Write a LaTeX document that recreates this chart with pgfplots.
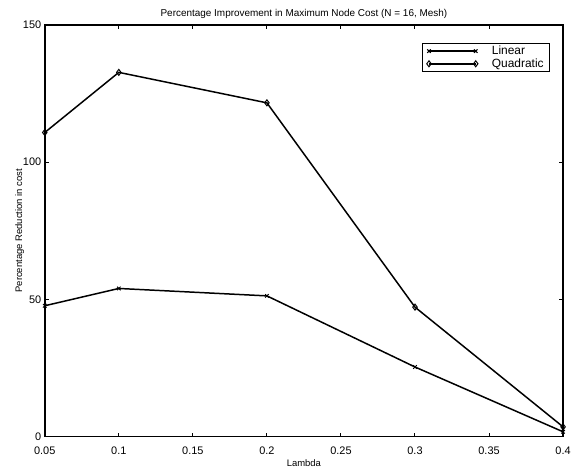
\documentclass[border=0pt]{standalone}
\usepackage{fontspec}
\setmainfont{Liberation Sans}
\usepackage{pgfplots}
\pgfplotsset{compat=1.18}
\begin{document}
\begin{tikzpicture}
\begin{axis}[
  scale only axis,
  width=521pt, height=414pt,
  xmin=0.05, xmax=0.4, ymin=0, ymax=150,
  xtick={0.05,0.1,0.15,0.2,0.25,0.3,0.35,0.4},
  xticklabels={0.05,0.1,0.15,0.2,0.25,0.3,0.35,0.4},
  ytick={0,50,100,150},
  tick align=inside,
  major tick length=4pt,
  axis line style={line width=1.5pt},
  tick style={line width=1pt, black},
  /pgf/number format/assume math mode=true,
  tick label style={font=\fontsize{11}{12}\selectfont},
  xticklabel style={yshift=-7pt},
  title={Percentage Improvement in Maximum Node Cost (N = 16, Mesh)},
  title style={font=\fontsize{10}{11}\selectfont, yshift=-3pt},
  xlabel={Lambda},
  ylabel={Percentage Reduction in cost},
  label style={font=\fontsize{9.5}{10}\selectfont},
  xlabel style={yshift=2pt},
  ylabel style={yshift=-8pt},
  legend style={at={(rel axis cs:0.975,0.957)}, anchor=north east,
    draw=black, line width=1pt, font=\fontsize{12}{12}\selectfont,
    inner xsep=4pt, inner ysep=1pt, row sep=-1.5pt, cells={anchor=west},
    /tikz/every odd column/.style={column sep=12pt}},
  legend image code/.code={
    \draw[#1] plot coordinates {(0pt,0pt) (47pt,0pt)};
  },
]
\addplot[black, line width=1.5pt, mark=x, mark size=2.5pt, mark options={line width=1pt}]
  coordinates {(0.05,47.7) (0.1,54.0) (0.2,51.3) (0.3,25.4) (0.4,1.8)};
\addlegendentry{Linear}
\addplot[black, line width=1.5pt, mark=diamond, mark size=3pt, mark options={line width=1pt, fill=white}]
  coordinates {(0.05,110.8) (0.1,132.7) (0.2,121.6) (0.3,47.2) (0.4,3.6)};
\addlegendentry{Quadratic}
\end{axis}
\path[use as bounding box] ([xshift=-45pt,yshift=-32pt]current axis.south west) rectangle ([xshift=8pt,yshift=25pt]current axis.north east);
\end{tikzpicture}
\end{document}
